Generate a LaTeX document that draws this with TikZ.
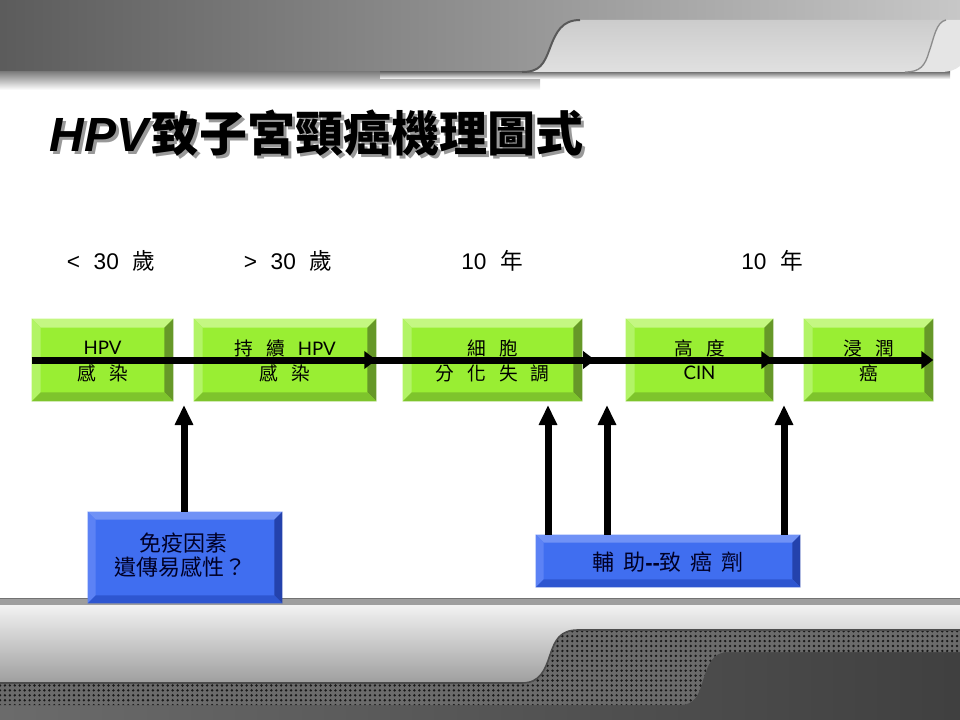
\documentclass[tikz,border=0pt]{standalone}
\usepackage{fontspec}
\setmainfont{Liberation Sans}
\newfontfamily\cjk{Noto Sans CJK TC}
\newfontfamily\gill{Lato}
\usetikzlibrary{fit,arrows.meta,patterns.meta,calc}
\definecolor{gface}{RGB}{153,238,51}
\definecolor{gtop}{RGB}{196,247,130}
\definecolor{gleft}{RGB}{178,244,102}
\definecolor{gright}{RGB}{102,152,40}
\definecolor{gbot}{RGB}{126,196,44}
\definecolor{bface}{RGB}{64,110,240}
\definecolor{btop}{RGB}{112,146,246}
\definecolor{bleft}{RGB}{92,130,245}
\definecolor{bright}{RGB}{36,66,172}
\definecolor{bbot}{RGB}{46,86,208}
\newcommand\bevelbox[6]{%
  \fill[#3] (#1.north west) -- (#1.north east) -- ([shift={(-#2,#2)}]#1.north east) -- ([shift={(#2,#2)}]#1.north west) -- cycle;
  \fill[#4] (#1.north west) -- ([shift={(#2,#2)}]#1.north west) -- ([shift={(#2,-#2)}]#1.south west) -- (#1.south west) -- cycle;
  \fill[#5] (#1.north east) -- ([shift={(-#2,#2)}]#1.north east) -- ([shift={(-#2,-#2)}]#1.south east) -- (#1.south east) -- cycle;
  \fill[#6] (#1.south west) -- ([shift={(#2,-#2)}]#1.south west) -- ([shift={(-#2,-#2)}]#1.south east) -- (#1.south east) -- cycle;
}
\newcommand\gs{\hspace{0.7em}}
\newcommand\ag{\hspace{0.6em}}
\tikzset{
  gbox/.style={inner sep=0, fill=gface},
  bbox/.style={inner sep=0, fill=bface},
  gtext/.style={inner sep=0, anchor=center, font=\fontsize{14}{16}\selectfont\cjk},
  btext/.style={inner sep=0, anchor=center, text=black!85!blue, font=\fontsize{16.5}{18}\selectfont\cjk},
  agelabel/.style={font=\fontsize{17}{20}\selectfont, anchor=center},
  harrow/.style={line width=5.25pt, -{Triangle[length=9pt,width=13pt]}},
  varrow/.style={line width=5.25pt, -{Triangle[length=15pt,width=13pt]}},
}
\begin{document}
\begin{tikzpicture}[x=0.75pt,y=-0.75pt]
\useasboundingbox (0,0) rectangle (960,720);
% ---------- top banner ----------
\shade[left color=white!36!black, right color=white!78!black]
  (0,0) -- (960,0) -- (960,20) -- (580,20) .. controls (562,20) and (556,32) .. (550,48) .. controls (544,64) and (540,72) .. (522,72) -- (0,72) -- cycle;
\shade[top color=black!50, bottom color=white] (0,72) rectangle (540,90);
\shade[top color=black!55, bottom color=white] (380,72) rectangle (950,79);
\shade[top color=white!80!black, bottom color=white!88!black]
  (580,20) -- (946,20) .. controls (936,22) and (934,38) .. (929,52) .. controls (925,66) and (920,72) .. (905,72) -- (522,72) .. controls (540,72) and (544,64) .. (550,48) .. controls (556,32) and (562,20) .. (580,20) -- cycle;
\fill[white!90!black] (946,20) -- (960,20) -- (960,66) .. controls (955,70) and (950,72) .. (940,72) -- (905,72) .. controls (920,72) and (925,66) .. (929,52) .. controls (934,38) and (936,22) .. (946,20) -- cycle;
\draw[black!65, line width=1.5pt] (522,72) .. controls (540,72) and (544,64) .. (550,48) .. controls (556,32) and (562,20) .. (580,20);
\draw[black!45, line width=1pt] (905,72) .. controls (920,72) and (925,66) .. (929,52) .. controls (934,38) and (936,22) .. (946,20);
% ---------- bottom banner ----------
\fill[white!62!black] (0,598) rectangle (960,605);
\draw[white!45!black, line width=0.8pt] (0,598.5) -- (960,598.5);
\shade[left color=white!42!black, right color=white!25!black] (0,605) rectangle (960,720);
\fill[white!42!black]
  (0,683) -- (522,683) .. controls (540,683) and (545,670) .. (550,655) .. controls (555,640) and (560,630) .. (578,630) -- (960,630) -- (960,652) -- (728,652) .. controls (712,652) and (708,665) .. (703,680) .. controls (699,695) and (694,705) .. (680,705) -- (0,705) -- cycle;
\fill[pattern={Dots[radius=1pt,distance=3.7pt]}, pattern color=black!90]
  (0,683) -- (522,683) .. controls (540,683) and (545,670) .. (550,655) .. controls (555,640) and (560,630) .. (578,630) -- (960,630) -- (960,652) -- (728,652) .. controls (712,652) and (708,665) .. (703,680) .. controls (699,695) and (694,705) .. (680,705) -- (0,705) -- cycle;
\shade[top color=white!95!black, bottom color=white!62!black]
  (0,605) -- (960,605) -- (960,630) -- (578,630) .. controls (560,630) and (555,640) .. (550,655) .. controls (545,670) and (540,683) .. (522,683) -- (0,683) -- cycle;
\draw[black!70, line width=1.2pt] (0,683) -- (522,683) .. controls (540,683) and (545,670) .. (550,655) .. controls (555,640) and (560,630) .. (578,630) -- (960,630);
% ---------- title ----------
\node[anchor=west, text=black!40, font=\fontsize{36}{40}\selectfont\bfseries] (titleshadow) at (48,136) {\textit{HPV}{\cjk 致子宮頸癌機理圖式}};
\node[anchor=west, font=\fontsize{36}{40}\selectfont\bfseries] (title) at (45,133) {\textit{HPV}{\cjk 致子宮頸癌機理圖式}};
% ---------- age labels ----------
\node[agelabel] (a1) at (111,261) {<\ag 30\ag{\cjk 歲}};
\node[agelabel] (a2) at (288,261) {>\ag 30\ag{\cjk 歲}};
\node[agelabel] (a3) at (492,261) {10\ag{\cjk 年}};
\node[agelabel] (a4) at (772,261) {10\ag{\cjk 年}};
% ---------- green boxes ----------
\node[gbox, fit={(32,319) (173,401)}] (b1) {};
\node[gbox, fit={(194,319) (376,401)}] (b2) {};
\node[gbox, fit={(403,319) (582,401)}] (b3) {};
\node[gbox, fit={(626,319) (773,401)}] (b4) {};
\node[gbox, fit={(804,319) (933,401)}] (b5) {};
\foreach \b in {b1,b2,b3,b4,b5}{\bevelbox{\b}{9}{gtop}{gleft}{gright}{gbot}}
\node[gtext] (b1a) at ([shift={(0,-12)}]b1.center) {\gill HPV};
\node[gtext] (b1b) at ([shift={(0,13)}]b1.center) {感\gs 染};
\node[gtext] (b2a) at ([shift={(0,-12)}]b2.center) {持\gs 續\gs{\gill HPV}};
\node[gtext] (b2b) at ([shift={(0,13)}]b2.center) {感\gs 染};
\node[gtext] (b3a) at ([shift={(0,-12)}]b3.center) {細\gs 胞};
\node[gtext] (b3b) at ([shift={(0,13)}]b3.center) {分\gs 化\gs 失\gs 調};
\node[gtext] (b4a) at ([shift={(0,-12)}]b4.center) {高\gs 度};
\node[gtext] (b4b) at ([shift={(0,13)}]b4.center) {\gill CIN};
\node[gtext] (b5a) at ([shift={(0,-12)}]b5.center) {浸\gs 潤};
\node[gtext] (b5b) at ([shift={(0,13)}]b5.center) {癌};
% ---------- blue boxes ----------
\node[bbox, fit={(88,512) (282,603)}] (f1) {};
\node[bbox, fit={(536,535) (800,587)}] (f2) {};
\bevelbox{f1}{8}{btop}{bleft}{bright}{bbot}
\bevelbox{f2}{8}{btop}{bleft}{bright}{bbot}
\node[btext] (f1a) at (183,543) {免疫因素};
\node[btext] (f1b) at (180,567) {遺傳易感性？};
\node[btext] (f2a) at ([shift={(0,1)}]f2.center) {輔\hspace{0.4em}助{\rmfamily\bfseries -{}-}致\hspace{0.4em}癌\hspace{0.4em}劑};
% ---------- main timeline ----------
\coordinate (c3) at (595,360);
\draw[harrow] (b1.west) -- (b2.east);
\draw[harrow] ([xshift=-14]b2.east) -- (c3);
\draw[harrow] ([xshift=-14]c3) -- (b4.east);
\draw[harrow] ([xshift=-14]b4.east) -- (b5.east);
% ---------- upward arrows ----------
\coordinate (t1) at (184,405);
\coordinate (t2) at (548,405);
\coordinate (t3) at (607,405);
\coordinate (t4) at (784,405);
\draw[varrow] (f1.north -| t1) -- (t1);
\draw[varrow] (f2.north -| t2) -- (t2);
\draw[varrow] (f2.north -| t3) -- (t3);
\draw[varrow] (f2.north -| t4) -- (t4);
\end{tikzpicture}
\end{document}
